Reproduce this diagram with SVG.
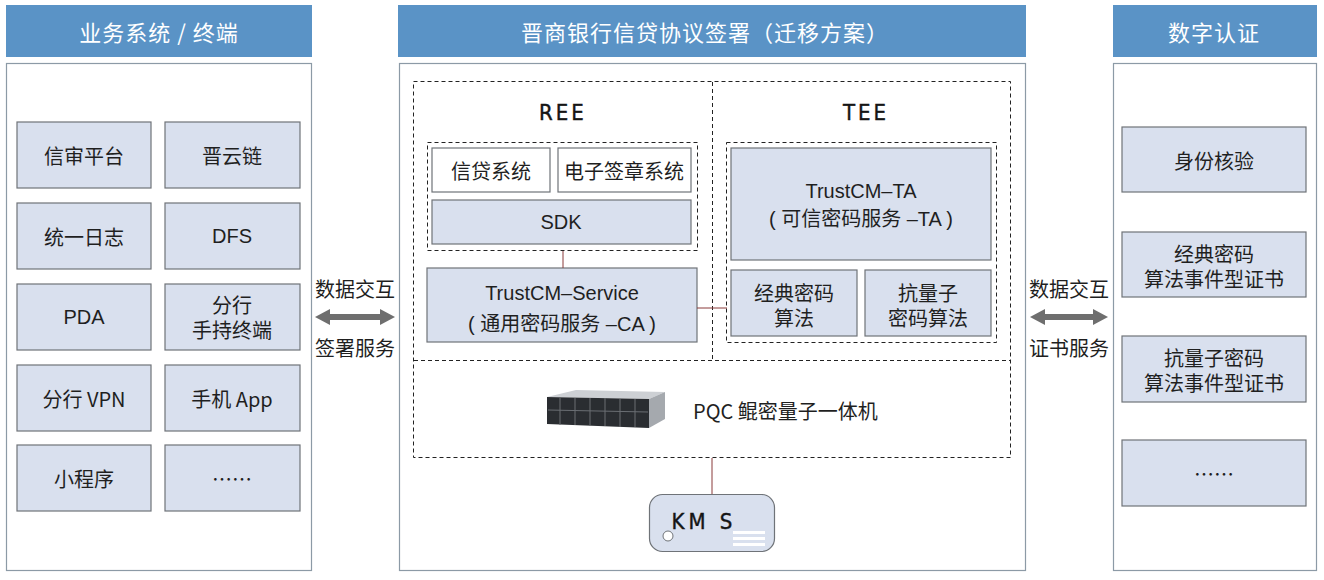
<svg xmlns="http://www.w3.org/2000/svg" width="1324" height="580" viewBox="0 0 1324 580">
<defs>
<style>
.hdr{fill:#5a93c6}
.hdrt{fill:#ffffff;font-family:"Noto Sans CJK SC","Liberation Sans",sans-serif;font-size:22px;letter-spacing:1px;text-anchor:middle;dominant-baseline:central}
.panel{fill:#ffffff;stroke:#8c9aa6;stroke-width:1.2}
.box{fill:#d9e0ee;stroke:#6f7378;stroke-width:1.2}
.wbox{fill:#ffffff;stroke:#6f7378;stroke-width:1.2}
.t{fill:#1f1f1f;font-family:"Noto Sans CJK SC","Liberation Sans",sans-serif;font-size:20px;text-anchor:middle;dominant-baseline:central}
.e{fill:#1f1f1f;font-family:"Liberation Sans","Noto Sans CJK SC",sans-serif;font-size:20px;text-anchor:middle;dominant-baseline:central}
.dash{fill:none;stroke:#222;stroke-width:1;stroke-dasharray:4,3}
.lab{fill:#151515;stroke:#151515;stroke-width:0.4;font-family:"DejaVu Sans Condensed","DejaVu Sans",sans-serif;font-size:22px;text-anchor:middle;dominant-baseline:central;letter-spacing:3px}
.conn{stroke:#8a3b3b;stroke-width:1;fill:none}
.arr{fill:#6e6e6e}
</style>
</defs>

<!-- Left column -->
<g id="left-panel">
<rect class="hdr" x="6" y="5" width="306" height="52"/>
<text class="hdrt" x="159" y="31">业务系统 / 终端</text>
<rect class="panel" x="6.5" y="63.5" width="305" height="507"/>
</g>
<g id="n-xinshen"><rect class="box" x="17" y="122" width="134" height="66"/><text class="t" x="84" y="155">信审平台</text></g>
<g id="n-jinyun"><rect class="box" x="165" y="122" width="135" height="66"/><text class="t" x="232" y="155">晋云链</text></g>
<g id="n-rizhi"><rect class="box" x="17" y="203" width="134" height="66"/><text class="t" x="84" y="236">统一日志</text></g>
<g id="n-dfs"><rect class="box" x="165" y="203" width="135" height="66"/><text class="e" x="232" y="236">DFS</text></g>
<g id="n-pda"><rect class="box" x="17" y="284" width="134" height="66"/><text class="e" x="84" y="317">PDA</text></g>
<g id="n-handheld"><rect class="box" x="165" y="284" width="135" height="66"/><text class="e"><tspan x="232" y="306">分行</tspan><tspan x="232" y="331">手持终端</tspan></text></g>
<g id="n-vpn"><rect class="box" x="17" y="365" width="134" height="66"/><text class="t" x="84" y="398">分行 VPN</text></g>
<g id="n-app"><rect class="box" x="165" y="365" width="135" height="66"/><text class="t" x="232" y="398">手机 App</text></g>
<g id="n-mini"><rect class="box" x="17" y="445" width="134" height="66"/><text class="t" x="84" y="478">小程序</text></g>
<g id="n-more-left"><rect class="box" x="165" y="445" width="135" height="66"/><text class="t" x="232" y="478">……</text></g>

<!-- Center -->
<g id="center-panel">
<rect class="hdr" x="398" y="5" width="628" height="52"/>
<text class="hdrt" x="705" y="31">晋商银行信贷协议签署（迁移方案）</text>
<rect class="panel" x="399.5" y="63.5" width="626" height="507"/>
</g>
<g id="zones">
<rect class="dash" x="413.5" y="81.5" width="597" height="376"/>
<line class="dash" x1="712.5" y1="82" x2="712.5" y2="360"/>
<line class="dash" x1="414" y1="360.5" x2="1010" y2="360.5"/>
<text class="lab" x="563" y="112">REE</text>
<text class="lab" x="866" y="112">TEE</text>
<rect class="dash" x="427.5" y="142.5" width="270" height="108"/>
<rect class="dash" x="726.5" y="142.5" width="270" height="200"/>
</g>
<g id="n-xindai"><rect class="wbox" x="432" y="148" width="118" height="44"/><text class="t" x="491" y="170">信贷系统</text></g>
<g id="n-qianzhang"><rect class="wbox" x="558" y="148" width="133" height="44"/><text class="t" x="624" y="170">电子签章系统</text></g>
<g id="n-sdk"><rect class="box" x="432" y="200" width="259" height="44"/><text class="e" x="561" y="222">SDK</text></g>
<g id="n-service"><rect class="box" x="427" y="268" width="270" height="74"/><text class="e"><tspan x="562" y="293">TrustCM–Service</tspan><tspan x="562" y="324">( 通用密码服务 –CA )</tspan></text></g>
<g id="n-ta"><rect class="box" x="731" y="148" width="260" height="112"/><text class="e"><tspan x="861" y="191">TrustCM–TA</tspan><tspan x="861" y="219">( 可信密码服务 –TA )</tspan></text></g>
<g id="n-classic"><rect class="box" x="731" y="270" width="126" height="66"/><text class="e"><tspan x="794" y="294">经典密码</tspan><tspan x="794" y="319">算法</tspan></text></g>
<g id="n-pqalg"><rect class="box" x="865" y="270" width="126" height="66"/><text class="e"><tspan x="928" y="294">抗量子</tspan><tspan x="928" y="319">密码算法</tspan></text></g>
<g id="n-pqc">
<polygon points="547,397 576,390 665,392 649,399" fill="#cdd0d4"/>
<polygon points="547,397 649,399 649,428 547,424" fill="#2a2d31"/>
<polygon points="649,399 665,392 665,419 649,428" fill="#a5a9ae"/>
<g stroke="#6a6e73" stroke-width="1">
<line x1="560" y1="398" x2="560" y2="425"/><line x1="575" y1="398" x2="575" y2="425"/><line x1="590" y1="398" x2="590" y2="426"/><line x1="605" y1="398" x2="605" y2="426"/><line x1="620" y1="399" x2="620" y2="427"/><line x1="635" y1="399" x2="635" y2="427"/>
<line x1="548" y1="410" x2="648" y2="412"/>
</g>
<text class="t" x="693" y="410" style="text-anchor:start">PQC 鲲密量子一体机</text>
</g>
<g id="n-kms">
<rect x="649.5" y="494.5" width="125" height="57" rx="13" fill="#d9e0ee" stroke="#6f7378" stroke-width="1.2"/>
<text class="lab" x="704" y="521" style="font-size:22px;letter-spacing:4px">KM S</text>
<circle cx="668" cy="536" r="5" fill="#ffffff" stroke="#6f7378" stroke-width="1"/>
<rect x="733" y="531" width="32" height="3" fill="#ffffff"/>
<rect x="733" y="537" width="32" height="3" fill="#ffffff"/>
<rect x="733" y="543" width="32" height="3" fill="#ffffff"/>
</g>

<!-- Right -->
<g id="right-panel">
<rect class="hdr" x="1113" y="5" width="204" height="52"/>
<text class="hdrt" x="1214" y="31">数字认证</text>
<rect class="panel" x="1113.5" y="63.5" width="203" height="507"/>
</g>
<g id="n-shenfen"><rect class="box" x="1122" y="127" width="184" height="65"/><text class="t" x="1214" y="160">身份核验</text></g>
<g id="n-classic-cert"><rect class="box" x="1122" y="232" width="184" height="65"/><text class="e"><tspan x="1214" y="255">经典密码</tspan><tspan x="1214" y="280">算法事件型证书</tspan></text></g>
<g id="n-pq-cert"><rect class="box" x="1122" y="336" width="184" height="66"/><text class="e"><tspan x="1214" y="359">抗量子密码</tspan><tspan x="1214" y="384">算法事件型证书</tspan></text></g>
<g id="n-more-right"><rect class="box" x="1122" y="440" width="184" height="66"/><text class="t" x="1214" y="473">……</text></g>

<!-- Connectors -->
<g id="connectors">
<line class="conn" x1="563" y1="251" x2="563" y2="268"/>
<line class="conn" x1="697" y1="308" x2="727" y2="308"/>
<line class="conn" x1="712" y1="458" x2="712" y2="494"/>
<text class="t" x="355" y="288">数据交互</text>
<polygon class="arr" points="315,317 330,309 330,314 380,314 380,309 395,317 380,325 380,320 330,320 330,325"/>
<text class="t" x="355" y="347">签署服务</text>
<text class="t" x="1069" y="288">数据交互</text>
<polygon class="arr" points="1030,317 1045,309 1045,314 1093,314 1093,309 1108,317 1093,325 1093,320 1045,320 1045,325"/>
<text class="t" x="1069" y="347">证书服务</text>
</g>
</svg>
